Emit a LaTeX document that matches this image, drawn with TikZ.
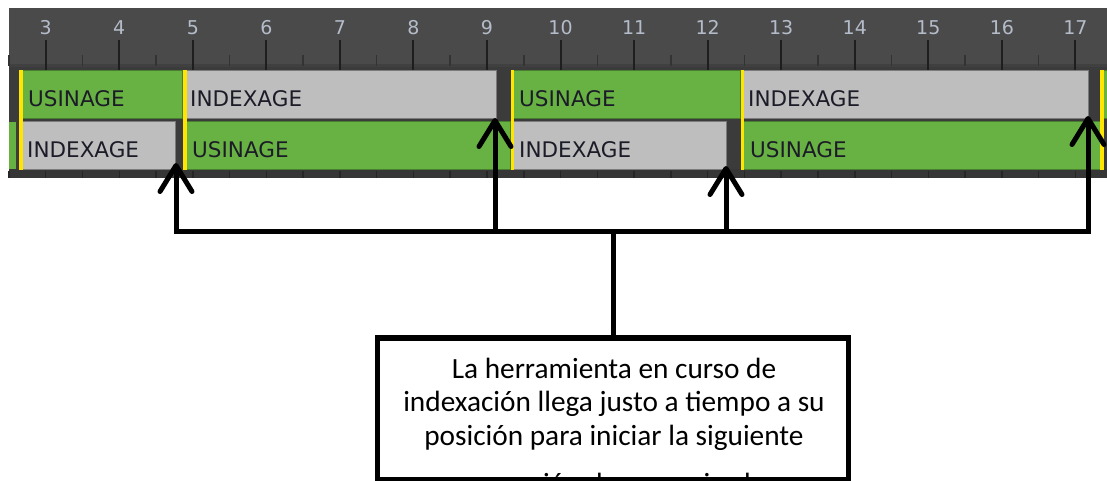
\documentclass[tikz,border=0pt]{standalone}
\usepackage{fontspec}
\setmainfont{Carlito}
\newfontfamily\barfont{DejaVu Sans}
\usetikzlibrary{arrows.meta}
\definecolor{rulerbg}{HTML}{4A4A4A}
\definecolor{rowbg}{HTML}{3B3B3B}
\definecolor{stripbg}{HTML}{363636}
\definecolor{tickcol}{HTML}{1E1E1E}
\definecolor{minorcol}{HTML}{333333}
\definecolor{numcol}{HTML}{B4BCCA}
\definecolor{usgreen}{HTML}{68B244}
\definecolor{ixgray}{HTML}{BEBEBE}
\definecolor{markcol}{HTML}{FFE600}
\definecolor{bartext}{HTML}{1C1C28}
\begin{document}
\begin{tikzpicture}[x=1pt,y=-1pt,
  grn/.style={fill=usgreen, draw=usgreen!70!black, line width=0.8pt},
  gry/.style={fill=ixgray, draw=ixgray!65!black, line width=0.8pt},
  lab/.style={anchor=base west, inner sep=0pt, text=bartext, font={\barfont\fontsize{21.5}{26}\selectfont}},
  num/.style={anchor=base, inner sep=0pt, text=numcol, font={\barfont\fontsize{19}{22}\selectfont}},
  conn/.style={line width=5pt, draw=black},
  tipa/.tip={Straight Barb[length=26pt,width=32pt,round]},
  msgbox/.style={draw=black, line width=5.5pt, minimum width=471pt, minimum height=142pt, inner sep=0pt}]
\clip (0,0) rectangle (1107,480);
\fill[white] (0,0) rectangle (1107,480);
% panel
\fill[rulerbg] (9,8) rectangle (1107,65);
\fill[rowbg] (9,65) rectangle (1107,178);
\fill[black!75] (9,64) rectangle (1107,66.5);
\fill[stripbg] (9,169) rectangle (1107,178);
% ruler ticks and numbers
\foreach \t in {2.5,3.5,...,16.5} {
  \pgfmathsetmacro\xx{45.7+(\t-3)*73.55}
  \draw[minorcol, line width=1.5pt] (\xx,55) -- (\xx,66);
}
\foreach \t in {2.5,3,...,17.5} {
  \pgfmathsetmacro\xx{45.7+(\t-3)*73.55}
  \draw[black!85, line width=1.5pt] (\xx,171) -- (\xx,178);
}
\foreach \t in {3,...,17} {
  \pgfmathsetmacro\xx{45.7+(\t-3)*73.55}
  \draw[tickcol, line width=2pt] (\xx,40) -- (\xx,70);
  \node[num] (n\t) at (\xx,34) {\t};
}
% row 1 bars
\path[grn] (20,70.5) rectangle (182,118.5);
\path[gry] (186,70.5) rectangle (496,118.5);
\path[grn] (512,70.5) rectangle (740,118.5);
\path[gry] (743,70.5) rectangle (1088,118.5);
\path[grn] (1101,70.5) rectangle (1110,118.5);
% row 2 bars
\fill[usgreen] (9,121.5) rectangle (15.5,169);
\path[gry] (20,121.5) rectangle (175,169);
\path[grn] (185,121.5) rectangle (510,169);
\path[gry] (512,121.5) rectangle (726,169);
\path[grn] (742,121.5) rectangle (1100,169);
% yellow markers
\foreach \m in {20.7,185.3,512.5,742.5,1101.6} {
  \fill[markcol] (\m-1.9,70) rectangle (\m+1.9,169.5);
}
% labels
\node[lab] (r1a) at (28,106) {USINAGE};
\node[lab] (r1b) at (190,106) {INDEXAGE};
\node[lab] (r1c) at (519,106) {USINAGE};
\node[lab] (r1d) at (748,106) {INDEXAGE};
\node[lab] (r2a) at (27,157) {INDEXAGE};
\node[lab] (r2b) at (192,157) {USINAGE};
\node[lab] (r2c) at (519,157) {INDEXAGE};
\node[lab] (r2d) at (750,157) {USINAGE};
% message box
\node[anchor=base, inner sep=0pt] (msg) at (614,378) {\parbox[t]{465pt}{\centering\fontsize{29.3}{33.5}\selectfont La herramienta en curso de\\ indexación llega justo a tiempo a su\\ posición para iniciar la siguiente\\[15pt] operación de mecanizado}};
\node[msgbox] (box) at (613,409) {};
% connectors
\coordinate (t1) at (176,163);
\coordinate (t2) at (495,118);
\coordinate (t3) at (726,166);
\coordinate (t4) at (1088,116);
\path (box.north) ++(0,-104) coordinate (h);
\draw[conn, line join=miter, {tipa}-{tipa}] (t1) -- (t1 |- h) -- (t4 |- h) -- (t4);
\draw[conn, -{tipa}] (t2 |- h) -- (t2);
\draw[conn, -{tipa}] (t3 |- h) -- (t3);
\draw[conn] (h) -- (box.north);
\end{tikzpicture}
\end{document}
